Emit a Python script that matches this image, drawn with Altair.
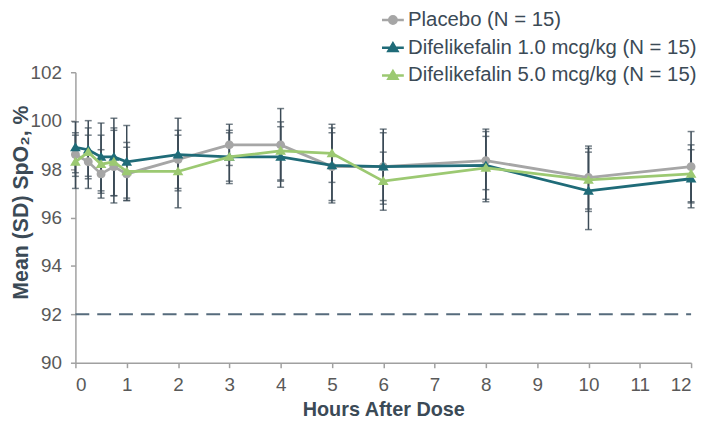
import altair as alt
import pandas as pd

times = [0, 0.25, 0.5, 0.75, 1, 2, 3, 4, 5, 6, 8, 10, 12]
series_names = ["Placebo (N = 15)", "Difelikefalin 1.0 mcg/kg (N = 15)", "Difelikefalin 5.0 mcg/kg (N = 15)"]
placebo_mean = [98.6, 98.3, 97.8, 98.1, 97.8, 98.4, 99.0, 99.0, 98.1, 98.1, 98.35, 97.65, 98.1]
placebo_sd = [0.9, 1.1, 1.0, 1.5, 1.1, 1.2, 0.85, 1.5, 1.4, 1.55, 1.2, 1.3, 1.45]
d1_mean = [98.9, 98.8, 98.5, 98.5, 98.3, 98.6, 98.5, 98.5, 98.15, 98.1, 98.15, 97.1, 97.6]
d1_sd = [1.05, 1.2, 1.4, 1.6, 1.5, 1.5, 1.1, 1.25, 1.55, 1.4, 1.5, 1.6, 1.2]
d5_mean = [98.3, 98.7, 98.2, 98.3, 97.9, 97.9, 98.5, 98.75, 98.65, 97.5, 98.05, 97.55, 97.8]
d5_sd = [1.1, 1.0, 1.2, 1.4, 1.2, 1.5, 1.0, 1.2, 1.2, 1.2, 1.3, 1.3, 1.2]
threshold = [92]
y_ticks = [90, 92, 94, 96, 98, 100, 102]
x_ticks = list(range(0, 13))

colors = ["#a6a6a6", "#1f6b78", "#9cc972"]
err_color = "#3b4a56"
FONT = "Liberation Sans"
Y_TITLE = "Mean (SD) SpO\u2082, %"
X_TITLE = "Hours After Dose"

rows = []
for name, means, sds in zip(series_names, [placebo_mean, d1_mean, d5_mean], [placebo_sd, d1_sd, d5_sd]):
    for t, m, s in zip(times, means, sds):
        rows.append({"series": name, "time": t, "mean": m, "lo": m - s, "hi": m + s})
df = pd.DataFrame(rows)
ref_df = pd.DataFrame({"y": threshold, "x0": [0], "x1": [12]})

xscale = alt.Scale(domain=[0, 12], nice=False, zero=False)
yscale = alt.Scale(domain=[90, 102], nice=False, zero=False)
color_scale = alt.Scale(domain=series_names, range=colors)
# marker shapes with a horizontal line segment (the segment only shows when stroked, i.e. in the legend)
marker_paths = [
    "M-2.2,0L2.2,0M0.75,0A0.75,0.75,0,1,1,-0.75,0A0.75,0.75,0,1,1,0.75,0Z",
    "M-2.2,0L2.2,0M0,-0.85L0.9,0.65L-0.9,0.65Z",
    "M-2.2,0L2.2,0M0,-0.85L0.9,0.65L-0.9,0.65Z",
]
shape_scale = alt.Scale(domain=series_names, range=marker_paths)

x_axis = alt.Axis(values=x_ticks, grid=False, tickSize=5, labelPadding=8, titlePadding=5,
                  titleFontSize=20)
y_axis = alt.Axis(values=y_ticks, grid=False, tickSize=5, labelPadding=9, titlePadding=-2,
                  titleFontSize=21.5, titleY=131)

leg = alt.Legend(title=None, orient="none", legendX=310, legendY=-63,
                 labelFont=FONT, labelFontSize=20.5, labelColor="#3b4a56", labelLimit=0,
                 symbolSize=100, symbolStrokeWidth=2.5, labelOffset=5,
                 rowPadding=7, padding=0)


def X(field):
    return alt.X(field, scale=xscale, axis=x_axis, title=X_TITLE)


def Y(field):
    return alt.Y(field, scale=yscale, axis=y_axis, title=Y_TITLE)


base = alt.Chart(df)

ref = alt.Chart(ref_df).mark_rule(color="#566b7c", strokeWidth=2, strokeDash=[14, 8]).encode(
    x=X("x0:Q"), x2="x1:Q", y=Y("y:Q"),
)

err = base.mark_errorbar(ticks={"size": 7, "thickness": 1.5, "color": err_color},
                         color=err_color, thickness=1.5).encode(
    x=X("time:Q"), y=Y("lo:Q"), y2="hi:Q",
)

layers = [ref, err]
for name in series_names:
    sub = base.transform_filter(alt.datum.series == name)
    layers.append(sub.mark_line(strokeWidth=2.8).encode(
        x=X("time:Q"), y=Y("mean:Q"),
        color=alt.Color("series:N", scale=color_scale, legend=leg),
    ))
    layers.append(sub.mark_point(filled=True, opacity=1, size=144, strokeWidth=0).encode(
        x=X("time:Q"), y=Y("mean:Q"),
        color=alt.Color("series:N", scale=color_scale, legend=leg),
        stroke=alt.Stroke("series:N", scale=color_scale, legend=leg),
        shape=alt.Shape("series:N", scale=shape_scale, legend=leg),
    ))

chart = alt.layer(*layers).properties(
    width=621, height=293,
    autosize=alt.AutoSizeParams(type="none"),
    padding={"left": 68, "top": 63, "right": 10, "bottom": 58},
).configure_view(stroke=None).configure_axis(
    domainColor="#a0a0a0", tickColor="#a0a0a0", domainWidth=1.5, tickWidth=1.5,
    labelFont=FONT, labelFontSize=19, labelColor="#595959",
    titleFont=FONT, titleFontWeight="bold", titleColor="#3b4a56",
)

chart.save("out.html", embed_options={"renderer": "svg", "actions": False})
